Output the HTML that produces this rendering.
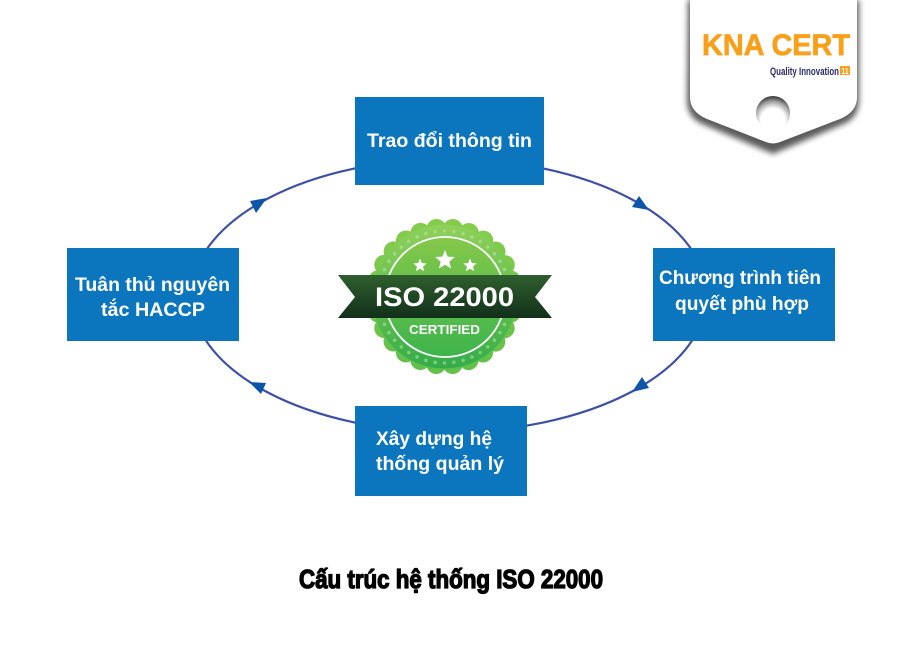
<!DOCTYPE html>
<html>
<head>
<meta charset="utf-8">
<style>
html,body{margin:0;padding:0;background:#fff;width:901px;height:651px;overflow:hidden}
svg{display:block}
.b{font-family:"Liberation Sans","DejaVu Sans",sans-serif;font-weight:700;font-size:19.5px;fill:#fff}
</style>
</head>
<body>
<svg width="901" height="651" viewBox="0 0 901 651" xmlns="http://www.w3.org/2000/svg">
<defs>
<linearGradient id="g1" x1="0" y1="0" x2="0" y2="1"><stop offset="0" stop-color="#84cc4c"/><stop offset="1" stop-color="#62c04c"/></linearGradient>
<linearGradient id="g2" x1="0" y1="0" x2="0" y2="1"><stop offset="0" stop-color="#8fd05a"/><stop offset="0.55" stop-color="#62bf4e"/><stop offset="1" stop-color="#33ac4a"/></linearGradient>
<linearGradient id="g3" x1="0" y1="0" x2="0" y2="1"><stop offset="0" stop-color="#84c84a"/><stop offset="1" stop-color="#3eb44c"/></linearGradient>
<linearGradient id="rb" x1="0" y1="0" x2="0" y2="1"><stop offset="0" stop-color="#2f5f2e"/><stop offset="1" stop-color="#12301a"/></linearGradient>
<radialGradient id="hole" cx="0.5" cy="0.72" r="0.72"><stop offset="0" stop-color="#fff"/><stop offset="0.5" stop-color="#fff"/><stop offset="0.75" stop-color="#aaa"/><stop offset="1" stop-color="#333"/></radialGradient>
<filter id="sh" x="-20%" y="-20%" width="140%" height="150%"><feGaussianBlur stdDeviation="3"/></filter>
</defs>

<!-- ellipse connector -->
<ellipse cx="449" cy="295.5" rx="257.5" ry="136.5" fill="none" stroke="#3c50a8" stroke-width="2.2"/>
<polygon points="267,198 250,201 256,213" fill="#0c55a8"/>
<polygon points="649,210 639,196 632,207" fill="#0c55a8"/>
<polygon points="632,392 642,377 649,388" fill="#0c55a8"/>
<polygon points="249,382 266,383 261,394" fill="#0c55a8"/>

<!-- boxes -->
<rect x="355" y="97" width="189" height="88" fill="#0b75bd"/>
<rect x="67" y="248" width="172" height="93" fill="#0b75bd"/>
<rect x="653" y="248" width="182" height="93" fill="#0b75bd"/>
<rect x="355" y="406" width="172" height="90" fill="#0b75bd"/>

<text class="b" x="367" y="147" textLength="165" lengthAdjust="spacingAndGlyphs">Trao đổi thông tin</text>
<text class="b" x="75" y="291" textLength="155" lengthAdjust="spacingAndGlyphs">Tuân thủ nguyên</text>
<text class="b" x="101" y="316" textLength="104" lengthAdjust="spacingAndGlyphs">tắc HACCP</text>
<text class="b" x="659" y="284" textLength="162" lengthAdjust="spacingAndGlyphs">Chương trình tiên</text>
<text class="b" x="675" y="310" textLength="134" lengthAdjust="spacingAndGlyphs">quyết phù hợp</text>
<text class="b" x="376" y="445" textLength="116" lengthAdjust="spacingAndGlyphs">Xây dựng hệ</text>
<text class="b" x="376" y="470" textLength="128" lengthAdjust="spacingAndGlyphs">thống quản lý</text>

<!-- badge -->
<circle cx="444.5" cy="296.5" r="70" fill="url(#g1)"/>
<circle cx="444.5" cy="296.5" r="68" fill="none" stroke="url(#g1)" stroke-width="20" stroke-linecap="round" stroke-dasharray="0 16.434"/>
<circle cx="444.5" cy="296.5" r="72" fill="url(#g2)"/>
<circle cx="444.5" cy="297" r="66" fill="none" stroke="#c4e8ac" stroke-width="3.6" stroke-linecap="round" stroke-dasharray="0 9.42" opacity="0.5"/>
<circle cx="445" cy="297" r="60" fill="url(#g3)" stroke="#fff" stroke-width="1.8"/>
<polygon points="445,250 447.7,256.6 454.8,257 449.3,261.6 451.1,268.5 445,264.7 438.9,268.5 440.7,261.6 435.2,257 442.3,256.6" fill="#fff"/>
<polygon points="420,258.5 421.9,263.1 426.7,263.4 423,266.6 424.2,271.3 420,268.7 415.8,271.3 417,266.6 413.3,263.4 418.1,263.1" fill="#fff"/>
<polygon points="470,258.5 471.9,263.1 476.7,263.4 473,266.6 474.2,271.3 470,268.7 465.8,271.3 467,266.6 463.3,263.4 468.1,263.1" fill="#fff"/>
<polygon points="338,275 552,275 535,297 552,318 338,318 355,297" fill="url(#rb)"/>
<text x="375" y="306" textLength="139" lengthAdjust="spacingAndGlyphs" font-family="'Liberation Sans',sans-serif" font-weight="700" font-size="26.5" fill="#fff">ISO 22000</text>
<text x="409" y="334" textLength="71" lengthAdjust="spacingAndGlyphs" font-family="'Liberation Sans',sans-serif" font-weight="700" font-size="13" fill="#fff">CERTIFIED</text>

<!-- logo -->
<path d="M688,0 H859 V100 Q859,116 846,123 L773,154 L700,123 Q687,116 687,100 Z" fill="#1a1a1a" opacity="0.72" filter="url(#sh)"/>
<path d="M690,0 H857 V97 Q857,112 840,119 L780,142 Q773,145 766,142 L707,119 Q690,112 690,97 Z" fill="#fff"/>
<circle cx="773" cy="113" r="17" fill="url(#hole)"/>
<text x="702" y="55" textLength="148" lengthAdjust="spacingAndGlyphs" font-family="'Liberation Sans',sans-serif" font-weight="700" font-size="30" fill="#f9a01b" stroke="#f9a01b" stroke-width="0.7">KNA CERT</text>
<text x="770" y="75" textLength="69" lengthAdjust="spacingAndGlyphs" font-family="'Liberation Sans',sans-serif" font-weight="700" font-size="11" fill="#2b2a6e">Quality Innovation</text>
<rect x="840" y="66" width="10" height="9" fill="#f9a01b"/>
<text x="841.5" y="74" textLength="7" lengthAdjust="spacingAndGlyphs" font-family="'Liberation Sans',sans-serif" font-weight="700" font-size="8" fill="#fff">11</text>

<!-- title -->
<text x="299" y="588" textLength="304" lengthAdjust="spacingAndGlyphs" font-family="'Liberation Sans',sans-serif" font-weight="700" font-size="26" fill="#000" stroke="#000" stroke-width="1.3">Cấu trúc hệ thống ISO 22000</text>
</svg>
</body>
</html>
